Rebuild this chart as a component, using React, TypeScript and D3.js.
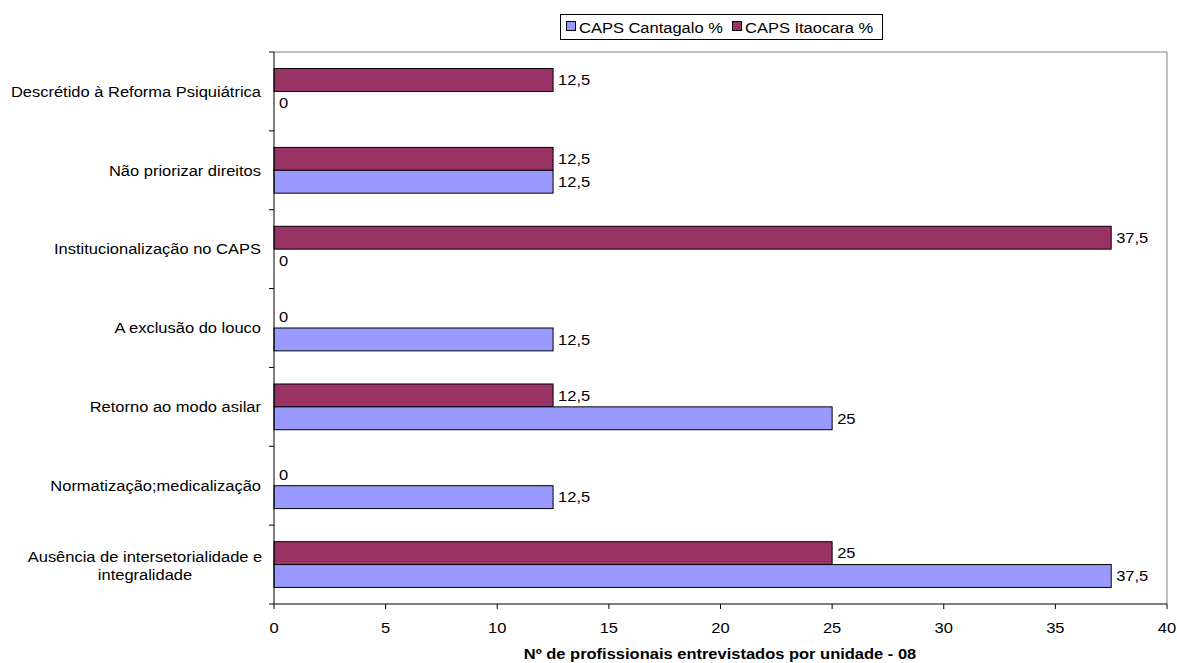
import React from "react";
import * as d3 from "d3";

const categories: string[][] = [
  ["Descrétido à Reforma Psiquiátrica"],
  ["Não priorizar direitos"],
  ["Institucionalização no CAPS"],
  ["A exclusão do louco"],
  ["Retorno ao modo asilar"],
  ["Normatização;medicalização"],
  ["Ausência de intersetorialidade e", "integralidade"],
];
const cantagalo = [0, 12.5, 0, 12.5, 25, 12.5, 37.5];
const itaocara = [12.5, 12.5, 37.5, 0, 12.5, 0, 25];
const xTicks = [0, 5, 10, 15, 20, 25, 30, 35, 40];
const seriesNames = ["CAPS Cantagalo %", "CAPS Itaocara %"];
const seriesColors = ["#9999FF", "#993366"];

const fmt = (v: number) => String(v).replace(".", ",");

const FONT = "'Liberation Sans', Arial, sans-serif";
const SX = 1.1;

// Text slightly widened horizontally, anchored at (x, y)
function T({ x, y, anchor = "start", bold = false, size = 15, children }: {
  x: number; y: number; anchor?: string; bold?: boolean; size?: number; children: React.ReactNode;
}) {
  return (
    <text
      transform={`translate(${x},${y}) scale(${SX},1)`}
      textAnchor={anchor}
      dy="0.35em"
      fontSize={size}
      fontWeight={bold ? "bold" : "normal"}
      fill="#000"
    >
      {children}
    </text>
  );
}

export default function App() {
  const W = 1177, H = 663;
  const left = 274, right = 1167, top = 52, bottom = 604;
  const x = d3.scaleLinear().domain([0, 40]).range([left, right]);
  const y = d3.scaleBand<number>().domain(d3.range(categories.length)).range([top, bottom]);
  const bw = y.bandwidth();
  const barH = bw * 0.29;

  return (
    <svg width={W} height={H} style={{ position: "absolute", left: 0, top: 0, background: "#fff" }} fontFamily={FONT}>
      {/* plot frame */}
      <line x1={left} x2={right} y1={top} y2={top} stroke="#808080" />
      <line x1={right} x2={right} y1={top} y2={bottom} stroke="#808080" />

      {categories.map((c, i) => {
        const cy = (y(i) as number) + bw / 2;
        const yIt = cy - barH;
        const yCa = cy;
        return (
          <g key={i}>
            <rect x={x(0)} y={yIt} width={x(itaocara[i]) - x(0)} height={barH}
              fill={seriesColors[1]} stroke={itaocara[i] > 0 ? "#000" : "none"} />
            <rect x={x(0)} y={yCa} width={x(cantagalo[i]) - x(0)} height={barH}
              fill={seriesColors[0]} stroke={cantagalo[i] > 0 ? "#000" : "none"} />
            <T x={x(itaocara[i]) + 5} y={yIt + barH / 2}>{fmt(itaocara[i])}</T>
            <T x={x(cantagalo[i]) + 5} y={yCa + barH / 2}>{fmt(cantagalo[i])}</T>
            {c.length === 1 ? (
              <T x={261} y={cy} anchor="end">{c[0]}</T>
            ) : (
              <g>
                <T x={145} y={cy - 8} anchor="middle">{c[0]}</T>
                <T x={145} y={cy + 10} anchor="middle">{c[1]}</T>
              </g>
            )}
          </g>
        );
      })}

      {/* left axis */}
      <line x1={left} x2={left} y1={top} y2={bottom} stroke="#000" />
      {d3.range(categories.length + 1).map((i) => {
        const yy = top + i * bw;
        return <line key={i} x1={left - 5} x2={left} y1={yy} y2={yy} stroke="#000" />;
      })}

      {/* bottom axis */}
      <line x1={left} x2={right} y1={bottom} y2={bottom} stroke="#000" />
      {xTicks.map((t) => (
        <g key={t}>
          <line x1={x(t)} x2={x(t)} y1={bottom} y2={bottom + 5} stroke="#000" />
          <T x={x(t)} y={628} anchor="middle">{t}</T>
        </g>
      ))}
      <T x={720} y={654} anchor="middle" bold>
        Nº de profissionais entrevistados por unidade - 08
      </T>

      {/* legend */}
      <rect x={560.5} y={14.5} width={322} height={25} fill="#fff" stroke="#000" />
      {seriesNames.map((s, i) => {
        const lx = i === 0 ? 566 : 732;
        return (
          <g key={s}>
            <rect x={lx + 0.5} y={21.5} width={9} height={9} fill={seriesColors[i]} stroke="#000" />
            <T x={lx + 13} y={27.5}>{s}</T>
          </g>
        );
      })}
    </svg>
  );
}
